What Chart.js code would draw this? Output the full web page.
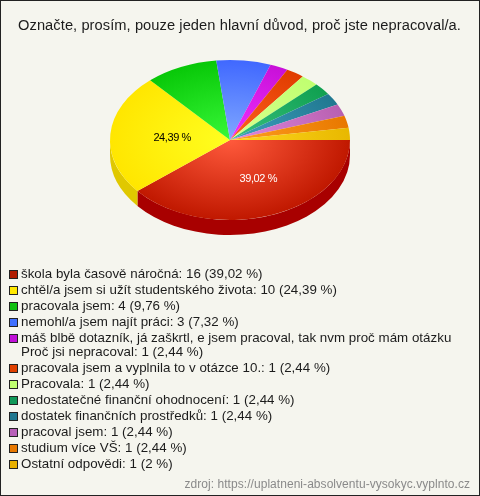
<!DOCTYPE html>
<html>
<head>
<meta charset="utf-8">
<script src="https://cdn.jsdelivr.net/npm/chart.js@4"></script>
<style>
html, body { margin: 0; padding: 0; background: #f5f5ee; }
#wrap { position: relative; width: 480px; height: 496px; overflow: hidden; font-family: "Liberation Sans", Arial, sans-serif; color: #1c1c1c; }
#wrap canvas { position: absolute; left: 0; top: 0; }
#frame { position: absolute; left: 0; top: 0; width: 478px; height: 494px; border: 1px solid #222; }
#title { position: absolute; left: 0; width: 479px; top: 16px; text-align: center; font-size: 14.67px; line-height: 18px; white-space: pre; letter-spacing: 0.07px; }
#legend { position: absolute; left: 8px; top: 267px; font-size: 13.33px; line-height: 14px; letter-spacing: 0.02px; }
#legend div { position: relative; padding: 0 0 2px 13px; white-space: pre; }
#legend i { position: absolute; left: 1px; top: 3px; width: 7px; height: 7px; border: 1px solid #222; }
#source { position: absolute; right: 10px; top: 477px; font-size: 12px; color: #8a8a8a; letter-spacing: 0.05px; }
</style>
</head>
<body>
<div id="wrap">
  <canvas id="graphCanvas" width="480" height="496"></canvas>
  <div id="frame"></div>
  <div id="title"></div>
  <div id="legend"></div>
  <div id="source">zdroj: https://uplatneni-absolventu-vysokyc.vyplnto.cz</div>
</div>
<script>
var chartTitle = "Označte, prosím, pouze jeden hlavní důvod, proč jste nepracoval/a.";
var labels = [
  "škola byla časově náročná",
  "chtěl/a jsem si užít studentského života",
  "pracovala jsem",
  "nemohl/a jsem najít práci",
  "máš blbě dotazník, já zaškrtl, e jsem pracoval, tak nvm proč mám otázku\nProč jsi nepracoval",
  "pracovala jsem a vyplnila to v otázce 10.",
  "Pracovala",
  "nedostatečné finanční ohodnocení",
  "dostatek finančních prostředků",
  "pracoval jsem",
  "studium více VŠ",
  "Ostatní odpovědi"
];
var counts = [16, 10, 4, 3, 1, 1, 1, 1, 1, 1, 1, 1];
var percents = ["39,02", "24,39", "9,76", "7,32", "2,44", "2,44", "2,44", "2,44", "2,44", "2,44", "2,44", "2"];
var shownOnPie = [true, true, false, false, false, false, false, false, false, false, false, false];
var legendColors = ["#b01c00", "#ffe800", "#10c010", "#4070ff", "#c010d8", "#e04000", "#c0ff70", "#109858", "#207890", "#b860b8", "#e87800", "#e8b000"];
var innerColors = ["#ff5a3c", "#ffff20", "#38f838", "#80a8ff", "#f030ff", "#ff6020", "#d8ff90", "#38c080", "#40a0c0", "#e088e0", "#ffa020", "#ffd820"];
var outerColors = ["#c01800", "#ffe600", "#08c808", "#4068ff", "#c810d8", "#e03c00", "#c0ff70", "#10a050", "#207890", "#b860b0", "#e87800", "#e8b800"];
var sideColors = ["#a80000", "#e0c800", "#08a008", "#3050c0", "#a010b0", "#b03000", "#a0d060", "#088040", "#186070", "#905090", "#c06000", "#c09800"];

var squash = 2 / 3;
var depth = 15;

// draws the flat pie squashed into an ellipse, with the side wall underneath
var tiltPlugin = {
  id: "tilt",
  beforeDatasetsDraw: function(chart) {
    var ctx = chart.ctx;
    var arcs = chart.getDatasetMeta(0).data;
    arcs.forEach(function(arc, i) {
      var a0 = Math.max(arc.startAngle, 0);
      var a1 = Math.min(arc.endAngle, Math.PI);
      if (a1 <= a0) return;
      var ry = arc.outerRadius * squash;
      ctx.beginPath();
      ctx.ellipse(arc.x, arc.y, arc.outerRadius, ry, 0, a0, a1);
      ctx.ellipse(arc.x, arc.y + depth, arc.outerRadius, ry, 0, a1, a0, true);
      ctx.closePath();
      ctx.fillStyle = sideColors[i];
      ctx.fill();
    });
    var first = arcs[0];
    ctx.save();
    ctx.translate(first.x, first.y);
    ctx.scale(1, squash);
    ctx.translate(-first.x, -first.y);
  },
  afterDatasetsDraw: function(chart) {
    var ctx = chart.ctx;
    ctx.restore();
    var arcs = chart.getDatasetMeta(0).data;
    ctx.font = "11px 'Liberation Sans', Arial, sans-serif";
    ctx.letterSpacing = "-0.4px";
    ctx.textAlign = "center";
    ctx.textBaseline = "middle";
    arcs.forEach(function(arc, i) {
      if (!shownOnPie[i]) return;
      var mid = (arc.startAngle + arc.endAngle) / 2;
      var r = arc.outerRadius / 2;
      ctx.fillStyle = i == 0 ? "#ffffff" : "#000000";
      ctx.fillText(percents[i] + " %", arc.x + Math.cos(mid) * r + (i == 0 ? 8 : 2), arc.y + Math.sin(mid) * r * squash + 1);
    });
    ctx.letterSpacing = "0px";
  }
};

document.getElementById("title").textContent = chartTitle;

var legendBox = document.getElementById("legend");
labels.forEach(function(name, i) {
  var row = document.createElement("div");
  var box = document.createElement("i");
  box.style.background = legendColors[i];
  row.appendChild(box);
  row.appendChild(document.createTextNode(name + ": " + counts[i] + " (" + percents[i] + " %)"));
  legendBox.appendChild(row);
});

var ctx = document.getElementById("graphCanvas");
new Chart(ctx, {
  type: "pie",
  data: {
    labels: labels,
    datasets: [{
      data: counts,
      borderWidth: 0,
      clip: false,
      backgroundColor: function(c) {
        var area = c.chart.chartArea;
        if (!area) return outerColors[c.dataIndex];
        var cx = (area.left + area.right) / 2, cy = (area.top + area.bottom) / 2;
        var g = c.chart.ctx.createRadialGradient(cx, cy, 0, cx, cy, 120);
        g.addColorStop(0, innerColors[c.dataIndex]);
        g.addColorStop(1, outerColors[c.dataIndex]);
        return g;
      }
    }]
  },
  options: {
    responsive: false,
    animation: false,
    rotation: 90,
    layout: { padding: { left: 110, right: 130, top: 20, bottom: 236 } },
    plugins: {
      legend: { display: false },
      tooltip: { enabled: false }
    }
  },
  plugins: [tiltPlugin]
});
</script>
</body>
</html>
